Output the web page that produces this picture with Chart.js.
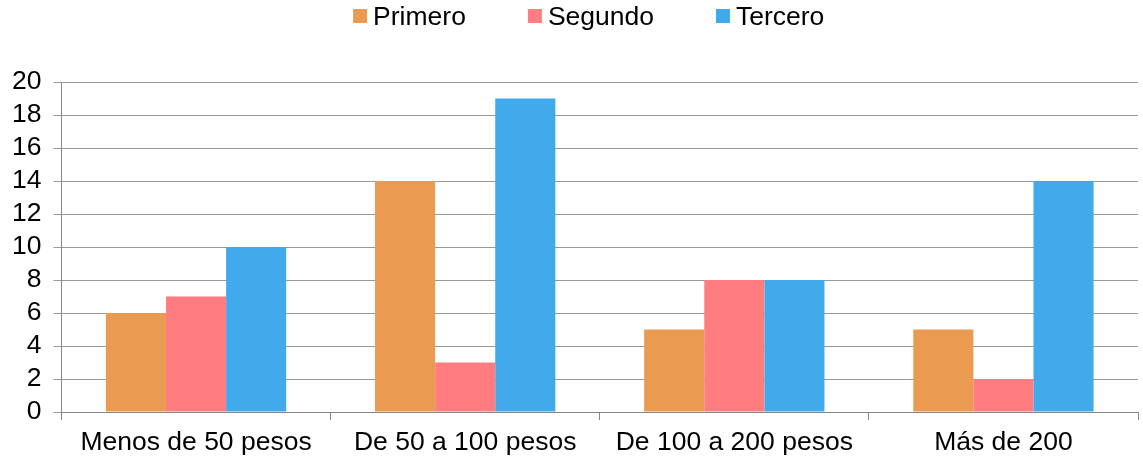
<!DOCTYPE html>
<html>
<head>
<meta charset="utf-8">
<script src="https://cdn.jsdelivr.net/npm/chart.js@4"></script>
<style>
html,body{margin:0;padding:0;background:#fff;}
#wrap{width:1143px;height:457px;}
</style>
</head>
<body>
<div id="wrap"><canvas id="c" width="1143" height="457"></canvas></div>
<script>
const categories = ["Menos de 50 pesos", "De 50 a 100 pesos", "De 100 a 200 pesos", "Más de 200"];
const seriesNames = ["Primero", "Segundo", "Tercero"];
const primero = [6, 14, 5, 5];
const segundo = [7, 3, 8, 2];
const tercero = [10, 19, 8, 14];
const yTicks = [0, 2, 4, 6, 8, 10, 12, 14, 16, 18, 20];
const colors = ["#EB9A52", "#FF7C80", "#41AAEB"];

const FONT = "'Liberation Sans', Arial, sans-serif";
const FS = 26.5;

const legendPlugin = {
  id: 'customLegend',
  afterDraw(chart) {
    const ctx = chart.ctx;
    ctx.save();
    ctx.font = FS + "px " + FONT;
    ctx.textBaseline = 'middle';
    ctx.textAlign = 'left';
    const box = 14, gap = 6, spacing = 62;
    const items = chart.data.datasets.map(d => ({label: d.label, color: d.backgroundColor, w: ctx.measureText(d.label).width}));
    let total = 0;
    items.forEach((it, i) => { total += box + gap + it.w + (i < items.length - 1 ? spacing : 0); });
    const ca = chart.chartArea;
    let x = (ca.left + ca.right) / 2 - 11 - total / 2;
    const cy = 16;
    items.forEach(it => {
      ctx.fillStyle = it.color;
      ctx.fillRect(x, cy - box / 2, box, box);
      ctx.fillStyle = '#000';
      ctx.fillText(it.label, x + box + gap, cy + 2);
      x += box + gap + it.w + spacing;
    });
    ctx.restore();
  }
};

const datasets = [primero, segundo, tercero].map((vals, i) => ({
  label: seriesNames[i],
  data: vals,
  backgroundColor: colors[i],
  borderWidth: 0,
  barPercentage: 1.0,
  categoryPercentage: 0.67
}));

new Chart(document.getElementById('c'), {
  type: 'bar',
  data: { labels: categories, datasets: datasets },
  options: {
    responsive: false,
    animation: false,
    devicePixelRatio: 1,
    layout: { padding: { left: 0, right: 5, top: 82, bottom: -9 } },
    plugins: {
      legend: { display: false },
      tooltip: { enabled: false }
    },
    scales: {
      x: {
        offset: true,
        grid: {
          display: true,
          offset: true,
          drawOnChartArea: false,
          drawTicks: true,
          tickLength: 8,
          color: '#888',
          lineWidth: 1
        },
        border: { display: true, color: '#888', width: 1 },
        ticks: {
          color: '#000',
          font: { family: FONT, size: FS, lineHeight: 1.0 },
          padding: 9.75,
          maxRotation: 0,
          autoSkip: false
        }
      },
      y: {
        min: 0,
        max: 20,
        afterBuildTicks(axis) { axis.ticks = yTicks.map(v => ({ value: v })); },
        grid: {
          color: '#999',
          lineWidth: 1,
          drawTicks: true,
          tickLength: 8
        },
        border: { display: true, color: '#888', width: 1 },
        ticks: {
          color: '#000',
          font: { family: FONT, size: FS },
          padding: 12,
          autoSkip: false
        }
      }
    }
  },
  plugins: [legendPlugin]
});
</script>
</body>
</html>
